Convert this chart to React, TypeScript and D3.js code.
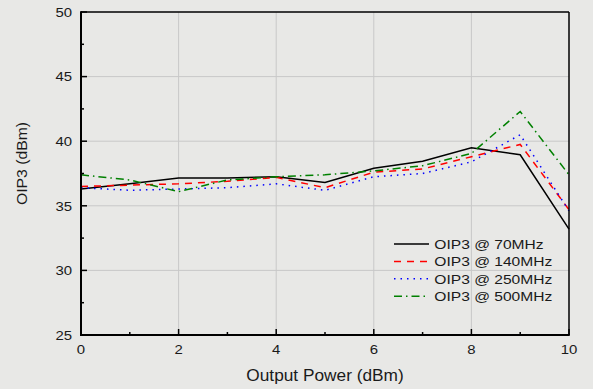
import React from "react";
import * as d3 from "d3";

const xValues = [0, 1, 2, 3, 4, 5, 6, 7, 8, 9, 10];
const s70 = [36.3, 36.7, 37.15, 37.15, 37.25, 36.8, 37.9, 38.45, 39.5, 38.95, 33.2];
const s140 = [36.5, 36.6, 36.7, 36.9, 37.2, 36.4, 37.6, 37.85, 38.8, 39.75, 34.7];
const s250 = [36.4, 36.2, 36.3, 36.4, 36.7, 36.2, 37.25, 37.5, 38.4, 40.5, 34.6];
const s500 = [37.4, 37.0, 36.1, 37.0, 37.25, 37.4, 37.7, 38.1, 39.05, 42.3, 37.4];
const seriesNames = ["OIP3 @ 70MHz", "OIP3 @ 140MHz", "OIP3 @ 250MHz", "OIP3 @ 500MHz"];
const xTicks = [0, 2, 4, 6, 8, 10];
const yTicks = [25, 30, 35, 40, 45, 50];
const xMinor = [1, 3, 5, 7, 9];
const yMinor = [27.5, 32.5, 37.5, 42.5, 47.5];

const W = 593, H = 389;
const L = 81, R = 569, T = 12, B = 335;

function SText(props: { x: number; y: number; sx: number; size: number; anchor?: string; children: any; rotate?: number }) {
  const { x, y, sx, size, anchor, children, rotate } = props;
  return (
    <text
      transform={`translate(${x},${y})${rotate ? ` rotate(${rotate})` : ""} scale(${sx},1)`}
      textAnchor={anchor || "start"}
      fontSize={size}
      fill="#1a1a1a"
    >
      {children}
    </text>
  );
}

export default function App() {
  const x = d3.scaleLinear().domain([0, 10]).range([L, R]);
  const y = d3.scaleLinear().domain([25, 50]).range([B, T]);
  const line = d3.line<number>().x((_, i) => x(xValues[i])).y((d) => y(d));
  const series = [
    { data: s70, color: "#000000", dash: "none", w: 1.5 },
    { data: s140, color: "#ff0000", dash: "7,6", w: 1.5 },
    { data: s250, color: "#0000ff", dash: "1.5,5", w: 1.5 },
    { data: s500, color: "#008000", dash: "8,4,1.5,4", w: 1.5 },
  ];
  const font = "Liberation Sans, Arial, sans-serif";
  return (
    <svg width={W} height={H} style={{ position: "absolute", left: 0, top: 0, display: "block" }} fontFamily={font}>
      <rect x={0} y={0} width={W} height={H} fill="#e8e8e6" />
      {xTicks.slice(1, -1).map((t) => (
        <line key={"gx" + t} x1={x(t)} x2={x(t)} y1={T} y2={B} stroke="#c8c8c8" strokeWidth={1} />
      ))}
      {yTicks.slice(1, -1).map((t) => (
        <line key={"gy" + t} x1={L} x2={R} y1={y(t)} y2={y(t)} stroke="#c8c8c8" strokeWidth={1} />
      ))}
      {series.map((s, i) => (
        <path key={i} d={line(s.data) || ""} fill="none" stroke={s.color} strokeWidth={s.w} strokeDasharray={s.dash} />
      ))}
      {/* frame */}
      <line x1={L} x2={R} y1={T} y2={T} stroke="#000" strokeWidth={1.5} />
      <line x1={R} x2={R} y1={T} y2={B} stroke="#000" strokeWidth={1.5} />
      <line x1={L} x2={L} y1={T - 0.75} y2={B + 1} stroke="#000" strokeWidth={2} />
      <line x1={L - 1} x2={R + 0.75} y1={B} y2={B} stroke="#000" strokeWidth={2} />
      {/* ticks */}
      {xTicks.map((t) => (
        <line key={"tx" + t} x1={x(t)} x2={x(t)} y1={B} y2={B - 6} stroke="#000" strokeWidth={1.5} />
      ))}
      {xMinor.map((t) => (
        <line key={"mx" + t} x1={x(t)} x2={x(t)} y1={B} y2={B - 3} stroke="#000" strokeWidth={1.5} />
      ))}
      {yTicks.map((t) => (
        <line key={"ty" + t} x1={L} x2={L + 6} y1={y(t)} y2={y(t)} stroke="#000" strokeWidth={1.5} />
      ))}
      {yMinor.map((t) => (
        <line key={"my" + t} x1={L} x2={L + 3} y1={y(t)} y2={y(t)} stroke="#000" strokeWidth={1.5} />
      ))}
      {xTicks.map((t) => (
        <SText key={"lx" + t} x={x(t)} y={B + 19} sx={1.15} size={13} anchor="middle">{t}</SText>
      ))}
      {yTicks.map((t) => (
        <SText key={"ly" + t} x={L - 9} y={y(t) + 4.7} sx={1.15} size={13} anchor="end">{t}</SText>
      ))}
      <SText x={325} y={380.5} sx={1.08} size={16} anchor="middle">Output Power (dBm)</SText>
      <SText x={27} y={163.5} sx={1.05} size={15} anchor="middle" rotate={-90}>OIP3 (dBm)</SText>
      {/* legend */}
      {series.map((s, i) => {
        const ly = 244 + i * 17.4;
        return (
          <g key={"lg" + i}>
            <line x1={394} x2={429} y1={ly} y2={ly} stroke={s.color} strokeWidth={s.w} strokeDasharray={s.dash} />
            <SText x={434.3} y={ly + 4.7} sx={1.2} size={13}>{seriesNames[i]}</SText>
          </g>
        );
      })}
    </svg>
  );
}
